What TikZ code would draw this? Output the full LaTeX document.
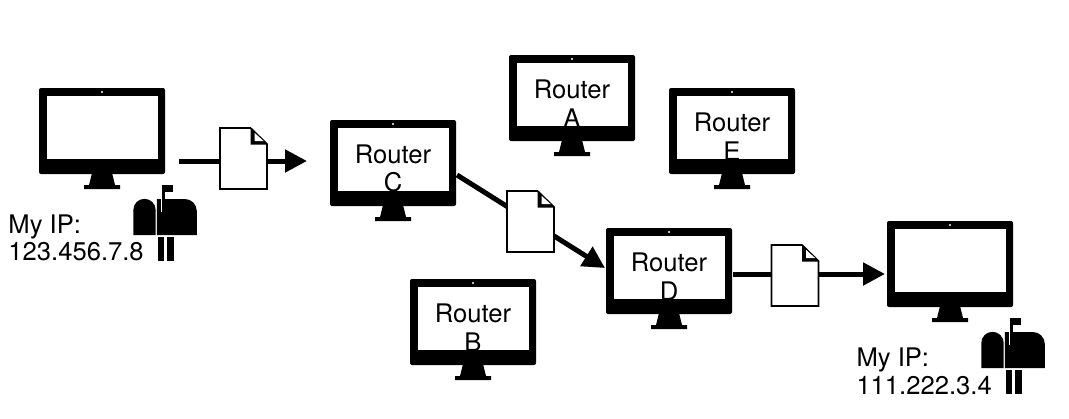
\documentclass[tikz,border=0pt]{standalone}
\usepackage{fontspec}
\setmainfont{TeX Gyre Heros}
\usetikzlibrary{arrows.meta}
\tikzset{
  px/.style={x=0.75pt,y=-0.75pt},
  lbl/.style={inner sep=0pt,outer sep=0pt,font=\fontsize{19.2}{21.4}\selectfont,align=center,text=black},
  iptext/.style={inner sep=0pt,outer sep=0pt,font=\fontsize{19.2}{21.4}\selectfont,anchor=base west,text=black},
  monitorbody/.style={fill=black,rounded corners=1.5pt,inner sep=0pt,outer sep=0pt,minimum width=94.5pt,minimum height=64.5pt,anchor=north west},
  docbox/.style={inner sep=0pt,outer sep=0pt,minimum width=35.25pt,minimum height=45.75pt,anchor=north west},
  link/.style={line width=3.75pt,black,-{Triangle[length=16.5pt,width=16.5pt]}},
  monitor/.pic={
    \node[monitorbody] (-body) at (0,0) {};
    \fill[white] (7.5,8) rectangle (118.5,70.5);
    \fill[white] (63,4) circle (1.1);
    \fill[black] (53,85) -- (73,85) -- (76,97) -- (81,97) -- (81,101) -- (45,101) -- (45,97) -- (50,97) -- cycle;
    \node[lbl] at (63,48.5) {#1};
  },
  document/.pic={
    \node[docbox] (-box) at (0,0) {};
    \draw[fill=white,line width=1.3pt,line join=miter] (0,0) -- (30.5,0) -- (47,16) -- (47,61) -- (0,61) -- cycle;
    \fill[black] (30.5,0) -- (47,16.5) -- (30.5,16.5) -- cycle;
    \fill[white] (34.5,4.8) -- (43.8,13.2) -- (34.5,13.2) -- cycle;
  },
  mailbox/.pic={
    \fill[black] (0,36) -- (0,11) arc[start angle=180,end angle=360,radius=11.2] -- (22.4,36) -- cycle;
    \fill[black] (23.6,36) -- (23.6,0) -- (51.5,0) arc[start angle=270,end angle=360,radius=12] -- (63.5,36) -- cycle;
    \fill[white] (27.2,-1) rectangle (28.3,13);
    \fill[black] (28.3,-14) rectangle (32,0);
    \fill[black] (28.3,-14) rectangle (39.7,-7);
    \fill[black] (24.4,38) rectangle (31,62);
    \fill[black] (33.4,38) rectangle (40.4,62);
  }
}
\begin{document}
\begin{tikzpicture}[px]
  \useasboundingbox (0,0) rectangle (1069,418);
  \fill[white] (0,0) rectangle (1069,418);

  \pic (m1) at (39,88) {monitor={}};
  \pic (rc) at (330,120) {monitor={Router\\C}};
  \pic (ra) at (509,55) {monitor={Router\\A}};
  \pic (re) at (669,88) {monitor={Router\\E}};
  \pic (rb) at (410,279) {monitor={Router\\B}};
  \pic (rd) at (606,228) {monitor={Router\\D}};
  \pic (m2) at (887,221) {monitor={}};

  \coordinate (a1s) at (179,161);
  \coordinate (a1e) at (307,161);
  \coordinate (a2s) at (457,175);
  \coordinate (a2e) at (605,268);
  \coordinate (a3s) at (733,274);
  \coordinate (a3e) at (885,274);
  \draw[link] (a1s) -- (a1e);
  \draw[link] (a2s) -- (a2e);
  \draw[link] (a3s) -- (a3e);

  \pic (d1) at (220,128) {document};
  \pic (d2) at (507,191) {document};
  \pic (d3) at (771.5,245) {document};

  \pic (b1) at (133.3,199) {mailbox};
  \pic (b2) at (981.3,332) {mailbox};

  \node[iptext] (ip1a) at (8.5,233) {My IP:};
  \node[iptext] (ip1b) at (8.5,260.5) {123.456.7.8};
  \node[iptext] (ip2a) at (856.5,366.5) {My IP:};
  \node[iptext] (ip2b) at (856.5,394) {111.222.3.4};
\end{tikzpicture}
\end{document}
